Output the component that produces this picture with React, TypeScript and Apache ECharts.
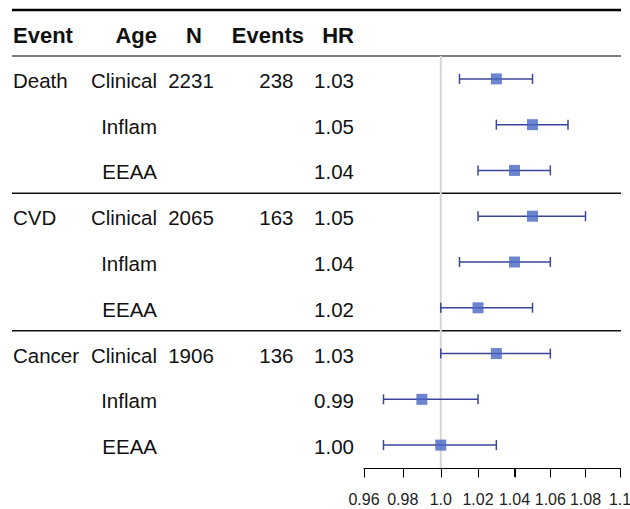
import React, { useEffect, useRef } from "react";
import * as echarts from "echarts";

const groupNames = ["Death", "", "", "CVD", "", "", "Cancer", "", ""];
const ageModels = ["Clinical", "Inflam", "EEAA", "Clinical", "Inflam", "EEAA", "Clinical", "Inflam", "EEAA"];
const nValues = ["2231", "", "", "2065", "", "", "1906", "", ""];
const eventCounts = ["238", "", "", "163", "", "", "136", "", ""];
const hrValues = [1.03, 1.05, 1.04, 1.05, 1.04, 1.02, 1.03, 0.99, 1.0];
const lowerCI = [1.01, 1.03, 1.02, 1.02, 1.01, 1.0, 1.0, 0.97, 0.97];
const upperCI = [1.05, 1.07, 1.06, 1.08, 1.06, 1.05, 1.06, 1.02, 1.03];
const tickValues = [0.96, 0.98, 1.0, 1.02, 1.04, 1.06, 1.08, 1.1];
const tickLabels = ["0.96", "0.98", "1.0", "1.02", "1.04", "1.06", "1.08", "1.1"];
const headers = ["Event", "Age", "N", "Events", "HR"];

const FONT = "'Liberation Sans', Arial, Helvetica, sans-serif";
const TEXT_COLOR = "#111";
const LINE_COLOR = "#3a4799";
const MARK_COLOR = "#4767c2";

export default function App() {
  const ref = useRef<HTMLDivElement>(null);

  useEffect(() => {
    if (!ref.current) return;
    const chart = echarts.init(ref.current, null, { renderer: "svg" });
    const rows = hrValues.map((_, i) => i);
    const logTicks = tickValues.map((v) => Math.log(v));

    chart.setOption({
      animation: false,
      grid: { left: 364, width: 256, top: 56, height: 412, containLabel: false, outerBoundsMode: "none" },
      xAxis: {
        type: "value",
        z: 50,
        min: logTicks[0],
        max: logTicks[logTicks.length - 1],
        splitLine: { show: false },
        axisLine: { show: true, onZero: false, lineStyle: { color: "#000", width: 1 } },
        axisTick: { show: true, length: 9, lineStyle: { color: "#000", width: 1 }, customValues: logTicks },
        axisLabel: { show: false, customValues: logTicks },
      },
      yAxis: { type: "value", min: -0.5, max: 8.5, inverse: true, show: false },
      series: [
        {
          type: "line",
          z: 1,
          silent: true,
          showSymbol: false,
          lineStyle: { color: "#d6d6d6", width: 2 },
          data: [
            [0, -0.5],
            [0, 8.5],
          ],
        },
        {
          type: "custom",
          z: 2,
          silent: true,
          encode: { x: [0, 1], y: 2 },
          data: rows.map((i) => [Math.log(lowerCI[i]), Math.log(upperCI[i]), i]),
          renderItem: (params: any, api: any) => {
            const lo = api.coord([api.value(0), api.value(2)]);
            const hi = api.coord([api.value(1), api.value(2)]);
            const h = 5;
            const style = { stroke: LINE_COLOR, lineWidth: 1.5 };
            return {
              type: "group",
              children: [
                { type: "line", shape: { x1: lo[0], y1: lo[1], x2: hi[0], y2: hi[1] }, style },
                { type: "line", shape: { x1: lo[0], y1: lo[1] - h, x2: lo[0], y2: lo[1] + h }, style },
                { type: "line", shape: { x1: hi[0], y1: hi[1] - h, x2: hi[0], y2: hi[1] + h }, style },
              ],
            };
          },
        },
        {
          type: "scatter",
          z: 3,
          silent: true,
          symbol: "rect",
          symbolSize: 11,
          itemStyle: { color: MARK_COLOR },
          data: rows.map((i) => [Math.log(hrValues[i]), i]),
        },
      ],
    });

    const yOf = (v: number) => chart.convertToPixel({ yAxisIndex: 0 }, v) as number;
    const xOf = (v: number) => chart.convertToPixel({ xAxisIndex: 0 }, v) as number;
    const graphics: any[] = [];
    const hline = (y: number, color: string, w: number) => ({
      type: "line",
      silent: true,
      shape: { x1: 12, y1: y, x2: 621, y2: y },
      style: { stroke: color, lineWidth: w },
    });
    graphics.push(hline(10, "#000", 2.5));
    graphics.push(hline(yOf(-0.5), "#555", 1.5));
    graphics.push(hline(yOf(2.5), "#111", 1.5));
    graphics.push(hline(yOf(5.5), "#111", 1.5));

    // x axis line, ticks and tick labels, placed through the x scale
    const axisY = Math.round(yOf(8.5)) + 0.5;
    const axStyle = { stroke: "#000", lineWidth: 1 };
    graphics.push({
      type: "line",
      silent: true,
      z: 100,
      shape: { x1: xOf(logTicks[0]), y1: axisY, x2: xOf(logTicks[logTicks.length - 1]), y2: axisY },
      style: axStyle,
    });
    logTicks.forEach((t, i) => {
      const x = Math.round(xOf(t)) + 0.5;
      graphics.push({
        type: "line",
        silent: true,
        z: 100,
        shape: { x1: x, y1: axisY, x2: x, y2: axisY + 9 },
        style: axStyle,
      });
      graphics.push({
        type: "text",
        silent: true,
        z: 100,
        x: xOf(t),
        y: axisY + 31,
        style: {
          text: tickLabels[i],
          fill: "#222",
          fontSize: 16,
          fontFamily: FONT,
          align: "center",
          verticalAlign: "middle",
        },
      });
    });

    const txt = (s: string, x: number, y: number, align: string, bold = false) => ({
      type: "text",
      silent: true,
      x,
      y,
      style: {
        text: s,
        fill: TEXT_COLOR,
        fontSize: bold ? 22 : 20.5,
        fontWeight: bold ? "bold" : "normal",
        fontFamily: FONT,
        align,
        verticalAlign: "middle",
      },
    });

    const headerY = 35;
    graphics.push(txt(headers[0], 13, headerY, "left", true));
    graphics.push(txt(headers[1], 157, headerY, "right", true));
    graphics.push(txt(headers[2], 194, headerY, "center", true));
    graphics.push(txt(headers[3], 304, headerY, "right", true));
    graphics.push(txt(headers[4], 354, headerY, "right", true));

    rows.forEach((i) => {
      const y = yOf(i) + 1.5;
      if (groupNames[i]) graphics.push(txt(groupNames[i], 13, y, "left"));
      graphics.push(txt(ageModels[i], 157, y, "right"));
      if (nValues[i]) graphics.push(txt(nValues[i], 191, y, "center"));
      if (eventCounts[i]) graphics.push(txt(eventCounts[i], 293.5, y, "right"));
      graphics.push(txt(hrValues[i].toFixed(2), 354, y, "right"));
    });

    chart.setOption({ graphic: graphics });

    return () => chart.dispose();
  }, []);

  return (
    <div style={{ position: "absolute", left: 0, top: 0, width: 630, height: 509 }}>
      <div ref={ref} style={{ width: 630, height: 509 }} />
    </div>
  );
}
